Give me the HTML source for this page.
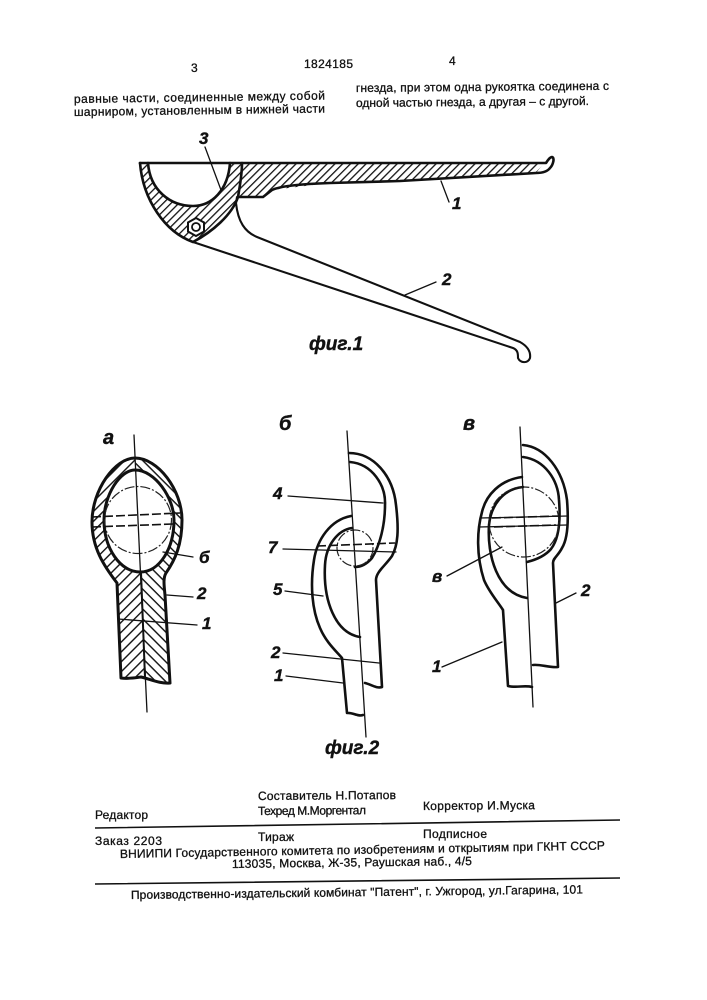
<!DOCTYPE html>
<html lang="ru"><head><meta charset="utf-8"><title>1824185</title>
<style>html,body{margin:0;padding:0;background:#fff}svg{display:block}
text{font-family:"Liberation Sans",sans-serif;fill:#111}
.t{font-size:12px;stroke:#111;stroke-width:.3px}
.l{font-size:17px;font-weight:bold;font-style:italic;stroke:#111;stroke-width:.4px}
.k{fill:none;stroke:#111;stroke-width:2.6;stroke-linecap:round;stroke-linejoin:round}
.n{fill:none;stroke:#111;stroke-width:1.3;stroke-linecap:round}
.d{fill:none;stroke:#111;stroke-width:1.6;stroke-dasharray:9 3}
.c{fill:none;stroke:#222;stroke-width:1.2;stroke-dasharray:10 2 2 2}
</style></head><body>
<svg width="707" height="1000" viewBox="0 0 707 1000" xmlns="http://www.w3.org/2000/svg">
<defs>
<pattern id="h1" width="5.500" height="5.500" patternUnits="userSpaceOnUse" patternTransform="rotate(-45)"><rect width="5.500" height="1.300" fill="#111"/></pattern>
<pattern id="h3" width="7" height="7" patternUnits="userSpaceOnUse" patternTransform="rotate(-45)"><rect width="7" height="1.400" fill="#111"/></pattern>
<pattern id="h4" width="7" height="7" patternUnits="userSpaceOnUse" patternTransform="rotate(45)"><rect width="7" height="1.400" fill="#111"/></pattern>
<clipPath id="la"><polygon points="60,430 134,435 147,712 60,712"/></clipPath>
<clipPath id="ra"><polygon points="134,435 147,712 220,712 220,430"/></clipPath>
</defs>
<rect width="707" height="1000" fill="#fff"/>

<!-- header text -->
<text class="t" x="191" y="72">3</text>
<text class="t" x="304" y="68" textLength="49" lengthAdjust="spacing">1824185</text>
<text class="t" x="449" y="65">4</text>
<text class="t" x="74" y="103" textLength="251" lengthAdjust="spacing" transform="rotate(-0.8 74 103)">равные части, соединенные между собой</text>
<text class="t" x="74" y="116" textLength="251" lengthAdjust="spacing" transform="rotate(-0.8 74 116)">шарниром, установленным в нижней части</text>
<text class="t" x="356" y="92" textLength="253" lengthAdjust="spacing" transform="rotate(-0.5 356 92)">гнезда, при этом одна рукоятка соединена с</text>
<text class="t" x="356" y="107" textLength="233" lengthAdjust="spacing" transform="rotate(-0.5 356 107)">одной частью гнезда, а другая – с другой.</text>

<!-- FIG 1 -->
<path d="M140 163 C143 200 165 232 193 242 C212 232 232 215 238 197 L242 163 L230 163 C228 190 212 206 193 206 C170 206 150 190 148 163 Z" fill="url(#h1)" fill-rule="evenodd"/>
<path d="M242 163 L544 163 C541 167 538 170 536 173 L400 181 L330 183 L272 190 L263 197 L238 197 Z" fill="url(#h1)"/>
<path class="k" d="M140 163 L546 163 C548 160 550 157 552 157 C555 158 553 165 550 168 C547 172 542 173 536 173 L400 181 L330 183 C300 184 280 186 272 190 L263 197 L238 197"/>
<path class="k" d="M140 163 C143 200 165 232 193 242 C212 232 232 215 238 197 C240 185 242 175 242 163"/>
<path class="k" d="M148 163 C150 190 170 206 193 206 C212 206 228 190 230 163"/>
<path class="k" style="stroke-width:2.1" d="M193 242 L513 348 C518 350 518 354 518 358 C520 363 528 364 530 358 C531 351 527 346 520 342 L257 237 C245 232 238 222 236 203 L237 197"/>
<polygon points="196,218 204,222.500 204,231.500 196,236 188,231.500 188,222.500" fill="#fff" stroke="#111" stroke-width="2"/>
<circle cx="196" cy="227" r="4" fill="#fff" stroke="#111" stroke-width="1.8"/>
<path class="n" d="M205 147 L221 190 M441 181 L449 202 M405 295 L436 282"/>
<text class="l" x="199" y="144">3</text>
<text class="l" x="452" y="209">1</text>
<text class="l" x="442" y="285">2</text>
<text class="l" x="309" y="350" style="font-size:19px">фиг.1</text>

<!-- FIG 2a -->
<path clip-path="url(#la)" fill="url(#h3)" fill-rule="evenodd" d="M135 458 C115 458 92 490 92 522 C92 548 104 566 117 583 L121 678 C128 679 134 678 141 677 C150 679 160 684 170 683 L165 595 C164 585 163 578 166 573 C175 560 182 545 182 520 C182 490 158 458 135 458 Z M135 470 C120 470 104 495 104 520 C104 548 120 572 140 572 C160 572 174 548 174 520 C174 498 155 470 135 470 Z"/>
<path clip-path="url(#ra)" fill="url(#h4)" fill-rule="evenodd" d="M135 458 C115 458 92 490 92 522 C92 548 104 566 117 583 L121 678 C128 679 134 678 141 677 C150 679 160 684 170 683 L165 595 C164 585 163 578 166 573 C175 560 182 545 182 520 C182 490 158 458 135 458 Z M135 470 C120 470 104 495 104 520 C104 548 120 572 140 572 C160 572 174 548 174 520 C174 498 155 470 135 470 Z"/>
<path class="k" style="stroke-width:3" d="M135 458 C115 458 92 490 92 522 C92 548 104 566 117 583 L121 678 C128 679 134 678 141 677 C150 679 160 684 170 683 L165 595 C164 585 163 578 166 573 C175 560 182 545 182 520 C182 490 158 458 135 458 Z"/>
<path class="k" style="stroke-width:3" d="M135 470 C120 470 104 495 104 520 C104 548 120 572 140 572 C160 572 174 548 174 520 C174 498 155 470 135 470 Z"/>
<circle class="c" cx="138" cy="520" r="33.500"/>
<path class="d" d="M92 517 L180 513 M92 527 L173 524"/>
<path class="n" d="M134 435 L147 712 M163 552 L193 557 M167 595 L193 597 M118 619 L197 625"/>
<path class="k" style="stroke-width:2" d="M141 572 L145 678"/>
<text class="l" x="103" y="444" style="font-size:20px">а</text>
<text class="l" x="199" y="563">б</text>
<text class="l" x="197" y="599">2</text>
<text class="l" x="202" y="629">1</text>

<!-- FIG 2б -->
<path class="k" d="M349 453 C373 453 393 475 396 505 C399 530 398 545 392 556 C385 566 376 572 376 580 L382 687 C377 689 370 684 365 683"/>
<path class="k" d="M350 462 C372 464 386 485 385 505 C385 525 380 545 372 558 C366 565 360 567 355 567"/>
<path class="k" d="M351 516 C330 520 317 540 314 560 C310 585 312 610 320 628 C326 642 335 650 342 658 L347 713 C352 712 358 717 363 715"/>
<path class="k" d="M352 528 C338 530 326 545 325 565 C323 600 335 633 360 637"/>
<circle class="c" cx="355" cy="548" r="18"/>
<path class="d" d="M317 546 L395 543"/>
<path class="n" d="M347 431 L366 737 M288 496 L383 503 M283 549 L396 552 M285 591 L323 596 M283 653 L379 663 M286 676 L343 683"/>
<text class="l" x="273" y="499">4</text>
<text class="l" x="268" y="553">7</text>
<text class="l" x="273" y="595">5</text>
<text class="l" x="271" y="658">2</text>
<text class="l" x="274" y="681">1</text>
<text class="l" x="279" y="430" style="font-size:20px">б</text>
<text class="l" x="325" y="754" style="font-size:19px">фиг.2</text>

<!-- FIG 2в -->
<path class="k" d="M523 445 C545 447 563 470 567 500 C569 525 567 540 562 548 C558 556 553 558 553 563 L558 667 C550 668 540 664 533 665"/>
<path class="k" d="M523 457 C545 460 558 480 559 500 C561 525 558 540 551 549 C545 556 535 560 527 562"/>
<path class="k" d="M522 477 C500 480 486 495 482 512 C477 530 476 555 484 580 C489 592 498 602 503 610 L508 686 C516 688 525 685 532 687"/>
<path class="k" d="M523 487 C503 489 491 505 489 525 C487 555 497 593 527 598"/>
<circle class="c" cx="524" cy="522" r="35"/>
<path class="n" d="M480 518 L568 516 M479 527 L567 525"/>
<path class="d" d="M492 518 L560 516 M494 527 L556 525"/>
<path class="n" d="M520 427 L533 707 M447 576 L502 547 M442 667 L502 642 M556 603 L576 593"/>
<text class="l" x="432" y="582">в</text>
<text class="l" x="432" y="672">1</text>
<text class="l" x="581" y="596">2</text>
<text class="l" x="463" y="430" style="font-size:20px">в</text>

<!-- footer -->
<text class="t" x="258" y="800" textLength="138" lengthAdjust="spacing" transform="rotate(-0.4 258 800)">Составитель  Н.Потапов</text>
<text class="t" x="258" y="815" textLength="108" lengthAdjust="spacing" transform="rotate(-0.4 258 815)">Техред М.Моргентал</text>
<text class="t" x="423" y="810" textLength="112" lengthAdjust="spacing" transform="rotate(-0.4 423 810)">Корректор  И.Муска</text>
<text class="t" x="95" y="819" textLength="53" lengthAdjust="spacing">Редактор</text>
<path d="M95 828 L620 820 M95 884 L620 878" stroke="#111" stroke-width="1.6" fill="none"/>
<text class="t" x="95" y="845" textLength="67" lengthAdjust="spacing">Заказ  2203</text>
<text class="t" x="258" y="841" textLength="36" lengthAdjust="spacing">Тираж</text>
<text class="t" x="423" y="838" textLength="64" lengthAdjust="spacing">Подписное</text>
<text class="t" x="120" y="858" textLength="485" lengthAdjust="spacing" transform="rotate(-1 120 858)">ВНИИПИ Государственного комитета по изобретениям и открытиям при ГКНТ СССР</text>
<text class="t" x="232" y="868" textLength="240" lengthAdjust="spacing" transform="rotate(-0.7 232 868)">113035, Москва, Ж-35, Раушская наб., 4/5</text>
<text class="t" x="131" y="899" textLength="452" lengthAdjust="spacing" transform="rotate(-0.7 131 899)">Производственно-издательский комбинат "Патент", г. Ужгород, ул.Гагарина, 101</text>
</svg>
</body></html>
